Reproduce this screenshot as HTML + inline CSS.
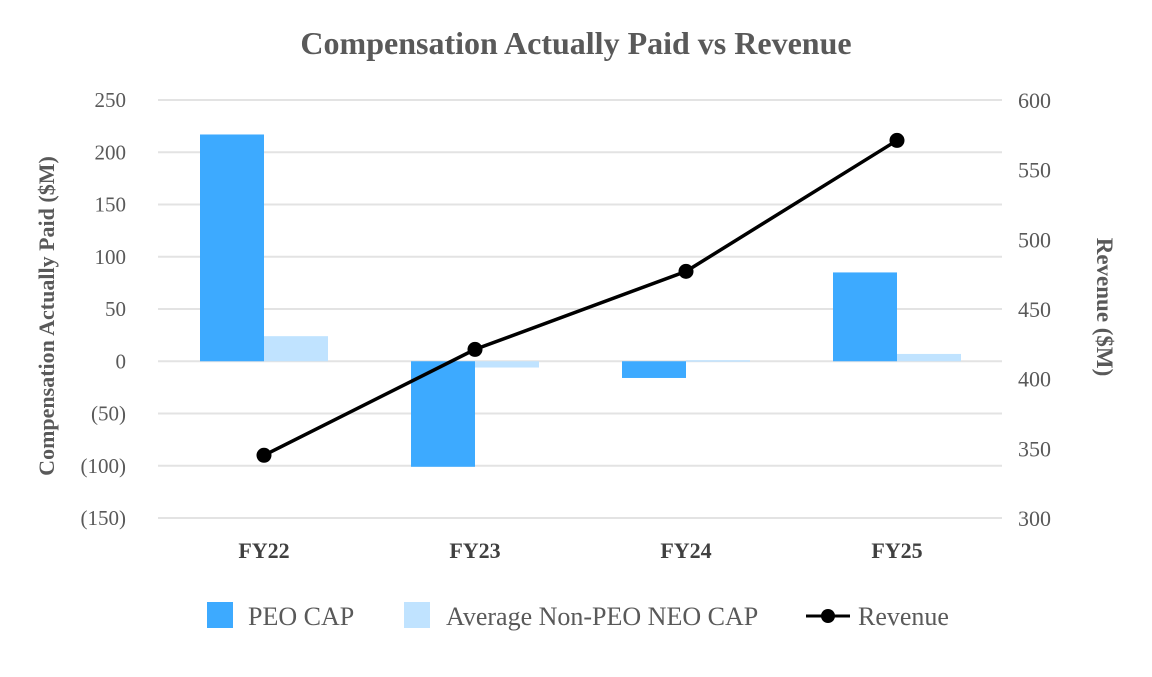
<!DOCTYPE html>
<html><head><meta charset="utf-8"><style>
body{margin:0;background:#fff;}
svg text{font-family:"Liberation Serif",serif;}
</style></head><body>
<svg id="chart" width="1152" height="672">
<text x="576" y="54" text-anchor="middle" font-size="32" font-weight="bold" fill="#595959">Compensation Actually Paid vs Revenue</text>
<g id="grid"></g><g id="bars"></g><g id="line"></g><g id="axes"></g>
<text transform="translate(54,316) rotate(-90)" text-anchor="middle" font-size="22" font-weight="bold" fill="#595959">Compensation Actually Paid ($M)</text>
<text transform="translate(1097,307) rotate(90)" text-anchor="middle" font-size="23" font-weight="bold" fill="#595959">Revenue ($M)</text>
<g>
<rect x="207" y="602" width="26" height="26" fill="#3DAAFF"/>
<text x="248" y="625" font-size="26" fill="#595959">PEO CAP</text>
<rect x="404" y="602" width="26" height="26" fill="#C0E3FF"/>
<text x="446" y="625" font-size="26" fill="#595959">Average Non-PEO NEO CAP</text>
<line x1="806" y1="616" x2="850" y2="616" stroke="#000" stroke-width="3"/>
<circle cx="828" cy="616" r="7" fill="#000"/>
<text x="858" y="625" font-size="26" fill="#595959">Revenue</text>
</g>
</svg>
<script>
const categories=["FY22","FY23","FY24","FY25"];
const peoCap=[217,-101,-16,85];
const nonPeoCap=[24,-6,1,7];
const revenue=[345,421,477,571];
const leftTicks=[250,200,150,100,50,0,-50,-100,-150];
const leftTickLabels=["250","200","150","100","50","0","(50)","(100)","(150)"];
const rightTicks=[600,550,500,450,400,350,300];
const NS="http://www.w3.org/2000/svg";
const plotTop=100,plotBot=518,plotLeft=158,plotRight=1002;
const yL=v=>plotTop+(250-v)/400*(plotBot-plotTop);
const yR=v=>plotTop+(600-v)/300*(plotBot-plotTop);
const band=(plotRight-plotLeft)/categories.length;
const cx=i=>plotLeft+band*(i+0.5)+0.5;
function mk(tag,attrs,parent){const e=document.createElementNS(NS,tag);for(const k in attrs)e.setAttribute(k,attrs[k]);document.getElementById(parent).appendChild(e);return e;}
leftTicks.forEach((t,i)=>{
 const g=mk('line',{x1:plotLeft,x2:plotRight,y1:yL(t),y2:yL(t),stroke:'#e3e3e3','stroke-width':2},'grid');
 
 
 const tx=mk('text',{x:126,y:yL(t)+7,'text-anchor':'end','font-size':21,fill:'#595959'},'axes');
 tx.textContent=leftTickLabels[i];
 
 
});
rightTicks.forEach(t=>{
 const tx=mk('text',{x:1018,y:yR(t)+8,'font-size':22,fill:'#595959'},'axes');
 tx.textContent=t;
 
 
});
const bw=64;
categories.forEach((c,i)=>{
 const x=cx(i);
 const a=peoCap[i],b=nonPeoCap[i];
 const r1=mk('rect',{x:x-bw,width:bw,y:Math.min(yL(a),yL(0)),height:Math.abs(yL(a)-yL(0)),fill:'#3DAAFF'},'bars');
 
 
 const r2=mk('rect',{x:x,width:bw,y:Math.min(yL(b),yL(0)),height:Math.max(1.5,Math.abs(yL(b)-yL(0))),fill:'#C0E3FF'},'bars');
 
 
 const tx=mk('text',{x:x,y:558,'text-anchor':'middle','font-size':22,'font-weight':'bold',fill:'#404040'},'axes');
 tx.textContent=c;
 
 
});
const pts=revenue.map((v,i)=>cx(i)+','+yR(v)).join(' ');
const pl=mk('polyline',{points:pts,fill:'none',stroke:'#000','stroke-width':3.5},'line');


revenue.forEach((v,i)=>{
 const p=mk('circle',{cx:cx(i),cy:yR(v),r:7.5,fill:'#000'},'line');
 
 
});
</script>
</body></html>
